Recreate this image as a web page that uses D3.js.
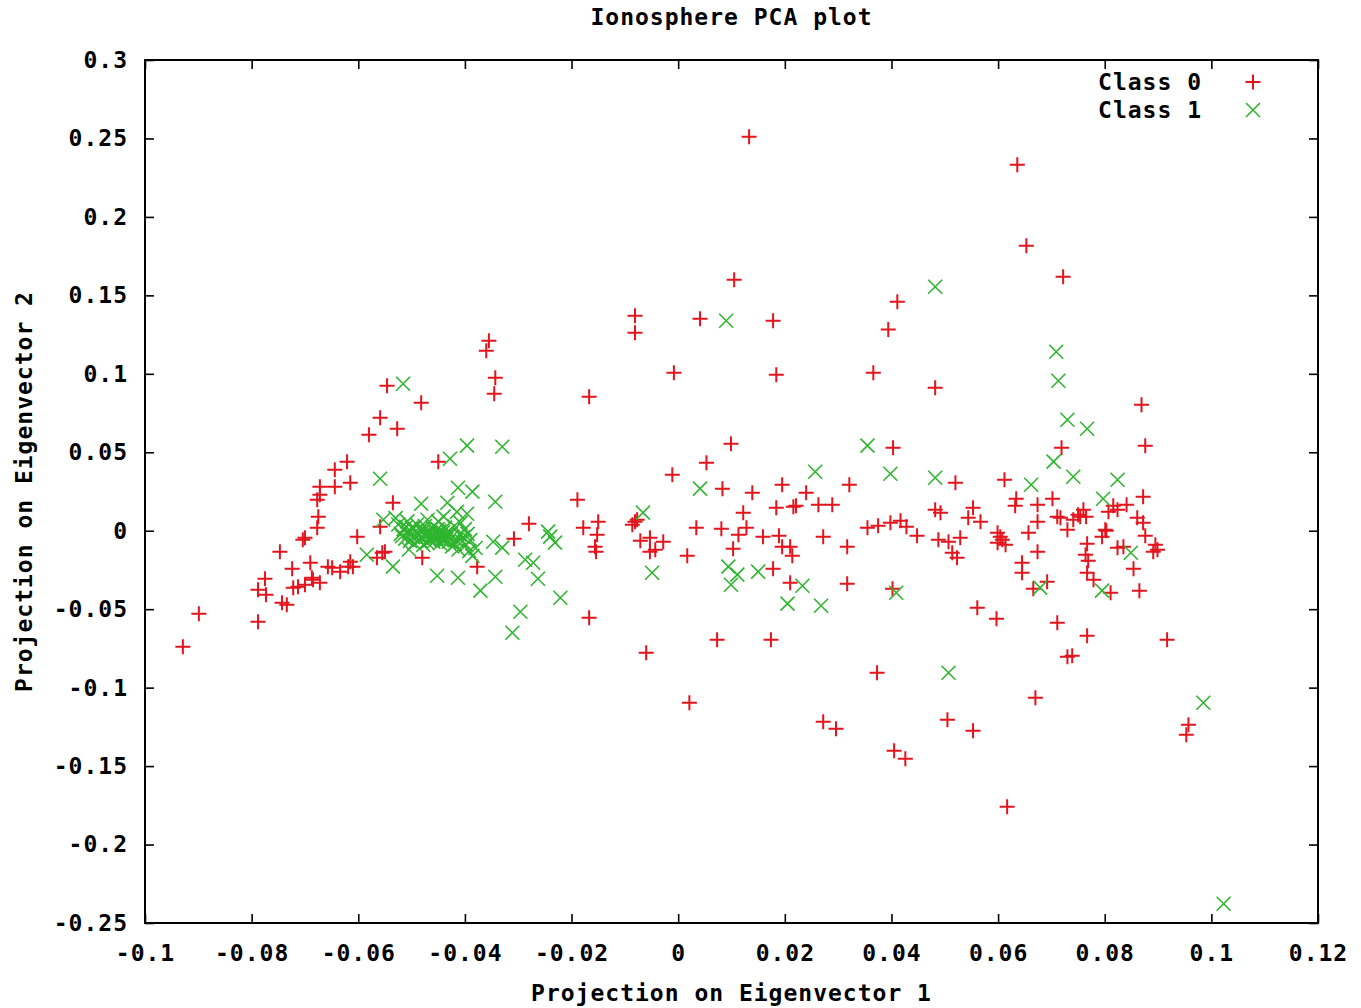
<!DOCTYPE html>
<html>
<head>
<meta charset="utf-8">
<script src="https://cdn.jsdelivr.net/npm/d3@7"></script>
<style>
  html, body { margin: 0; padding: 0; background: #fff; }
  svg text { font-family: "DejaVu Sans Mono", "Liberation Mono", monospace; font-weight: bold; fill: #000; }
</style>
</head>
<body>
<svg id="chart" width="1361" height="1008"></svg>
<script>
// ---------------- data ----------------
const chartTitle = "Ionosphere PCA plot";
const xLabel = "Projection on Eigenvector 1";
const yLabel = "Projection on Eigenvector 2";
const seriesNames = ["Class 0", "Class 1"];

const xTicks = [-0.1, -0.08, -0.06, -0.04, -0.02, 0, 0.02, 0.04, 0.06, 0.08, 0.1, 0.12];
const xTickLabels = ["-0.1", "-0.08", "-0.06", "-0.04", "-0.02", "0", "0.02", "0.04", "0.06", "0.08", "0.1", "0.12"];
const yTicks = [0.3, 0.25, 0.2, 0.15, 0.1, 0.05, 0, -0.05, -0.1, -0.15, -0.2, -0.25];
const yTickLabels = ["0.3", "0.25", "0.2", "0.15", "0.1", "0.05", "0", "-0.05", "-0.1", "-0.15", "-0.2", "-0.25"];

// Class 0 points [eigvec1, eigvec2]
const class0 = [
[-0.0929,-0.0739],[-0.0899,-0.0529],[-0.0788,-0.0580],[-0.0775,-0.0306],[-0.0788,-0.0376],
[-0.0773,-0.0408],[-0.0747,-0.0134],[-0.0743,-0.0459],[-0.0734,-0.0472],[-0.0724,-0.0242],
[-0.0722,-0.0363],[-0.0713,-0.0357],[-0.0700,-0.0344],[-0.0690,-0.0204],[-0.0687,-0.0300],
[-0.0685,-0.0312],[-0.0672,-0.0331],[-0.0657,-0.0229],[-0.0649,-0.0236],[-0.0634,-0.0261],
[-0.0619,-0.0229],[-0.0615,-0.0198],[-0.0610,-0.0229],[-0.0602,-0.0038],[-0.0565,-0.0172],
[-0.0555,-0.0140],[-0.0550,-0.0134],[-0.0559,0.0025],[-0.0535,0.0178],[-0.0480,-0.0172],
[-0.0672,0.0280],[-0.0644,0.0280],[-0.0615,0.0306],[-0.0672,0.0229],[-0.0677,0.0198],
[-0.0675,0.0089],[-0.0677,0.0019],[-0.0700,-0.0045],[-0.0704,-0.0057],[-0.0546,0.0924],
[-0.0482,0.0816],[-0.0559,0.0720],[-0.0527,0.0650],[-0.0580,0.0612],[-0.0621,0.0440],
[-0.0644,0.0389],[-0.0450,0.0440],[-0.0355,0.1211],[-0.0360,0.1147],[-0.0343,0.0975],
[-0.0345,0.0873],[-0.0167,0.0854],[-0.0377,-0.0229],[-0.0308,-0.0051],[-0.0280,0.0045],
[-0.0189,0.0198],[-0.0178,0.0019],[-0.0150,0.0057],[-0.0152,-0.0025],[-0.0156,-0.0102],
[-0.0154,-0.0134],[-0.0167,-0.0554],[-0.0077,0.0070],[-0.0086,0.0038],[-0.0081,0.0057],
[-0.0071,-0.0064],[-0.0053,-0.0045],[-0.0028,-0.0070],[-0.0053,-0.0134],[-0.0043,-0.0121],
[-0.0060,-0.0778],[-0.0011,0.0357],[0.0133,0.2511],[0.0105,0.1600],[-0.0081,0.1370],
[-0.0081,0.1262],[0.0041,0.1351],[0.0178,0.1338],[-0.0008,0.1007],[0.0184,0.0994],
[0.0366,0.1007],[0.0099,0.0554],[0.0053,0.0433],[0.0083,0.0268],[0.0139,0.0242],
[0.0195,0.0293],[0.0240,0.0242],[0.0321,0.0293],[0.0122,0.0115],[0.0184,0.0147],
[0.0216,0.0153],[0.0221,0.0159],[0.0263,0.0166],[0.0289,0.0166],[0.0017,-0.0159],
[0.0034,0.0019],[0.0081,0.0013],[0.0128,0.0019],[0.0113,-0.0025],[0.0103,-0.0115],
[0.0159,-0.0038],[0.0189,-0.0032],[0.0195,-0.0102],[0.0210,-0.0102],[0.0214,-0.0159],
[0.0272,-0.0038],[0.0317,-0.0102],[0.0355,0.0019],[0.0375,0.0032],[0.0178,-0.0242],
[0.0210,-0.0331],[0.0317,-0.0338],[0.0073,-0.0695],[0.0174,-0.0695],[0.0021,-0.1096],
[0.0272,-0.1217],[0.0296,-0.1262],[0.0373,-0.0905],[0.0636,0.2333],[0.0653,0.1816],
[0.0722,0.1619],[0.0411,0.1460],[0.0394,0.1282],[0.0482,0.0911],[0.0719,0.0529],
[0.0403,0.0529],[0.0520,0.0306],[0.0612,0.0325],[0.0634,0.0204],[0.0632,0.0159],
[0.0674,0.0166],[0.0702,0.0204],[0.0816,0.0159],[0.0824,0.0134],[0.0482,0.0134],
[0.0492,0.0115],[0.0553,0.0147],[0.0544,0.0083],[0.0567,0.0057],[0.0711,0.0089],
[0.0717,0.0083],[0.0674,0.0057],[0.0741,0.0070],[0.0750,0.0102],[0.0760,0.0134],
[0.0765,0.0089],[0.0398,0.0051],[0.0417,0.0064],[0.0428,0.0025],[0.0448,-0.0032],
[0.0488,-0.0057],[0.0507,-0.0070],[0.0529,-0.0045],[0.0514,-0.0140],[0.0523,-0.0172],
[0.0599,-0.0013],[0.0604,-0.0038],[0.0599,-0.0076],[0.0608,-0.0057],[0.0614,-0.0089],
[0.0657,-0.0013],[0.0674,-0.0134],[0.0730,0.0006],[0.0801,0.0006],[0.0795,-0.0038],
[0.0767,-0.0083],[0.0764,-0.0153],[0.0769,-0.0191],[0.0824,-0.0108],[0.0645,-0.0204],
[0.0645,-0.0268],[0.0402,-0.0370],[0.0692,-0.0325],[0.0666,-0.0370],[0.0767,-0.0268],
[0.0779,-0.0312],[0.0811,-0.0395],[0.0561,-0.0491],[0.0597,-0.0561],[0.0711,-0.0586],
[0.0767,-0.0669],[0.0730,-0.0803],[0.0739,-0.0797],[0.0670,-0.1064],[0.0505,-0.1205],
[0.0553,-0.1275],[0.0405,-0.1402],[0.0426,-0.1453],[0.0617,-0.1759],[0.0869,0.0803],
[0.0876,0.0542],[0.0872,0.0217],[0.0841,0.0166],[0.0807,0.0121],[0.0754,0.0089],
[0.0861,0.0083],[0.0872,0.0051],[0.0803,0.0000],[0.0876,-0.0032],[0.0895,-0.0089],
[0.0899,-0.0121],[0.0891,-0.0134],[0.0835,-0.0102],[0.0854,-0.0242],[0.0865,-0.0382],
[0.0917,-0.0695],[0.0957,-0.1236],[0.0953,-0.1300]
];

// Class 1 points [eigvec1, eigvec2]
const class1 = [
[-0.0516,0.0937],[-0.0559,0.0331],[-0.0396,0.0542],[-0.0330,0.0535],[-0.0428,0.0459],
[-0.0482,0.0172],[-0.0433,0.0178],[-0.0413,0.0274],[-0.0386,0.0249],[-0.0343,0.0185],
[-0.0396,0.0108],[-0.0535,-0.0229],[-0.0452,-0.0287],[-0.0413,-0.0300],[-0.0343,-0.0293],
[-0.0263,-0.0306],[-0.0371,-0.0382],[-0.0244,-0.0006],[-0.0240,-0.0038],[-0.0231,-0.0076],
[-0.0287,-0.0185],[-0.0272,-0.0204],[-0.0330,-0.0108],[-0.0347,-0.0070],[-0.0221,-0.0427],
[-0.0296,-0.0516],[-0.0311,-0.0650],[-0.0049,-0.0268],[-0.0066,0.0115],[0.0090,0.1338],
[0.0041,0.0268],[0.0257,0.0376],[0.0355,0.0542],[0.0094,-0.0229],[0.0111,-0.0280],
[0.0099,-0.0344],[0.0150,-0.0261],[0.0233,-0.0351],[0.0205,-0.0465],[0.0268,-0.0478],
[0.0482,0.1555],[0.0709,0.1141],[0.0713,0.0956],[0.0730,0.0707],[0.0767,0.0650],
[0.0704,0.0440],[0.0741,0.0344],[0.0398,0.0363],[0.0482,0.0338],[0.0662,0.0293],
[0.0824,0.0325],[0.0797,0.0204],[0.0409,-0.0395],[0.0679,-0.0363],[0.0795,-0.0382],
[0.0507,-0.0905],[0.0849,-0.0140],[0.0985,-0.1096],[0.1023,-0.2377],
[-0.0584,-0.0153],[-0.0553,0.0070],
[-0.0525,0.0040],[-0.0520,-0.0020],[-0.0515,0.0010],[-0.0512,-0.0050],[-0.0508,0.0060],
[-0.0505,-0.0010],[-0.0500,0.0020],[-0.0498,-0.0040],[-0.0495,-0.0080],[-0.0492,0.0000],
[-0.0490,0.0040],[-0.0487,-0.0030],[-0.0485,-0.0060],[-0.0482,0.0010],[-0.0480,-0.0010],
[-0.0478,-0.0090],[-0.0475,0.0030],[-0.0473,-0.0040],[-0.0470,-0.0020],[-0.0468,0.0000],
[-0.0466,-0.0060],[-0.0463,-0.0030],[-0.0461,0.0020],[-0.0459,-0.0070],[-0.0457,-0.0010],
[-0.0455,-0.0040],[-0.0453,-0.0050],[-0.0451,0.0010],[-0.0449,-0.0020],[-0.0447,-0.0080],
[-0.0445,-0.0030],[-0.0443,-0.0060],[-0.0441,-0.0010],[-0.0439,-0.0040],[-0.0437,0.0020],
[-0.0435,-0.0050],[-0.0433,-0.0030],[-0.0430,-0.0070],[-0.0427,-0.0020],[-0.0424,-0.0100],
[-0.0420,0.0030],[-0.0416,-0.0060],[-0.0412,-0.0120],[-0.0408,0.0050],[-0.0403,-0.0040],
[-0.0398,-0.0090],[-0.0392,-0.0130],[-0.0386,-0.0160],[-0.0380,-0.0110],[-0.0505,-0.0120],
[-0.0530,0.0080],[-0.0470,0.0070],[-0.0450,0.0060],[-0.0440,0.0090],[-0.0415,0.0120],
[-0.0400,0.0010],[-0.0395,-0.0020],
[-0.0518,-0.0035],[-0.0510,0.0025],[-0.0503,-0.0065],[-0.0496,0.0015],[-0.0489,-0.0015],
[-0.0483,-0.0045],[-0.0477,0.0005],[-0.0471,-0.0075],[-0.0465,-0.0015],[-0.0460,-0.0045],
[-0.0454,-0.0025],[-0.0448,0.0000],[-0.0444,-0.0045],[-0.0438,-0.0065],[-0.0432,-0.0005],
[-0.0426,-0.0045],[-0.0419,-0.0085],[-0.0410,-0.0025],[-0.0405,-0.0070],[-0.0390,-0.0060]
];

// ---------------- drawing ----------------
const plotL = 145, plotR = 1318, plotT = 60, plotB = 923;
const svg = d3.select("#chart");
const FONT = 23;

const xScale = d3.scaleLinear().domain([-0.1, 0.12]).range([plotL, plotR]);
const yScale = d3.scaleLinear().domain([-0.25, 0.3]).range([plotB, plotT]);

const redColor = "#e3141c", greenColor = "#2fb52f";

function styleAxis(g, labels) {
  g.select(".domain").remove();
  g.selectAll(".tick line").attr("stroke", "#000").attr("stroke-width", 1.6);
  g.selectAll(".tick text")
    .style("font-size", FONT + "px")
    .style("letter-spacing", "1px")
    .style("font-family", "'DejaVu Sans Mono', monospace")
    .style("font-weight", "bold")
    .attr("fill", "#000");
  if (!labels) g.selectAll(".tick text").remove();
}

svg.append("g").attr("transform", `translate(0,${plotB})`)
  .call(d3.axisBottom(xScale).tickValues(xTicks).tickSize(-9).tickPadding(22)
    .tickFormat((d, i) => xTickLabels[i]))
  .call(g => styleAxis(g, true));
svg.append("g").attr("transform", `translate(0,${plotT})`)
  .call(d3.axisTop(xScale).tickValues(xTicks).tickSize(-9))
  .call(g => styleAxis(g, false));
svg.append("g").attr("transform", `translate(${plotL},0)`)
  .call(d3.axisLeft(yScale).tickValues(yTicks).tickSize(-9).tickPadding(17)
    .tickFormat((d, i) => yTickLabels[i]))
  .call(g => styleAxis(g, true));
svg.append("g").attr("transform", `translate(${plotR},0)`)
  .call(d3.axisRight(yScale).tickValues(yTicks).tickSize(-9))
  .call(g => styleAxis(g, false));

svg.append("rect")
  .attr("x", plotL).attr("y", plotT)
  .attr("width", plotR - plotL).attr("height", plotB - plotT)
  .attr("fill", "none").attr("stroke", "#000").attr("stroke-width", 2);

const plusPath = "M-7.5,0H7.5M0,-7.5V7.5";
const crossPath = "M-7,-7L7,7M-7,7L7,-7";

svg.append("g").selectAll("path").data(class0).join("path")
  .attr("d", plusPath)
  .attr("transform", d => `translate(${xScale(d[0])},${yScale(d[1])})`)
  .attr("stroke", redColor).attr("stroke-width", 2).attr("fill", "none");

svg.append("g").selectAll("path").data(class1).join("path")
  .attr("d", crossPath)
  .attr("transform", d => `translate(${xScale(d[0])},${yScale(d[1])})`)
  .attr("stroke", greenColor).attr("stroke-width", 1.6).attr("fill", "none");

const legend = svg.append("g");
seriesNames.forEach((name, i) => {
  const ly = 83 + i * 28;
  legend.append("text")
    .attr("x", 1202).attr("y", ly)
    .attr("text-anchor", "end").attr("dominant-baseline", "middle")
    .style("font-size", FONT + "px").style("letter-spacing", "1px")
    .text(name);
  legend.append("path")
    .attr("d", i === 0 ? plusPath : crossPath)
    .attr("transform", `translate(1253,${ly - 1})`)
    .attr("stroke", i === 0 ? redColor : greenColor)
    .attr("stroke-width", i === 0 ? 2 : 1.6).attr("fill", "none");
});

svg.append("text")
  .attr("x", (plotL + plotR) / 2).attr("y", 18)
  .attr("text-anchor", "middle").attr("dominant-baseline", "middle")
  .style("font-size", FONT + "px").style("letter-spacing", "1px")
  .text(chartTitle);

svg.append("text")
  .attr("x", (plotL + plotR) / 2).attr("y", 994)
  .attr("text-anchor", "middle").attr("dominant-baseline", "middle")
  .style("font-size", FONT + "px").style("letter-spacing", "1px")
  .text(xLabel);

svg.append("text")
  .attr("transform", `translate(25,${(plotT + plotB) / 2}) rotate(-90)`)
  .attr("text-anchor", "middle").attr("dominant-baseline", "middle")
  .style("font-size", FONT + "px").style("letter-spacing", "1px")
  .text(yLabel);
</script>
</body>
</html>
